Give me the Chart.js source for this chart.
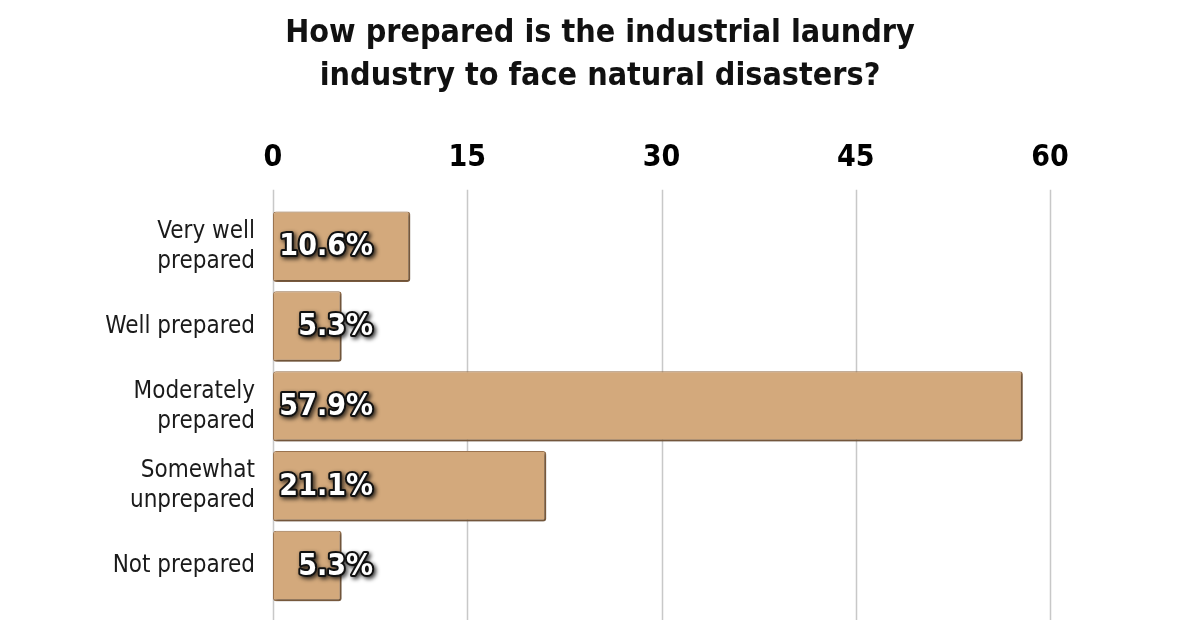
<!DOCTYPE html>
<html><head><meta charset="utf-8">
<script src="https://cdn.jsdelivr.net/npm/chart.js@4.4.1/dist/chart.umd.min.js"></script>
<style>html,body{margin:0;padding:0;background:#fff}#wrap{width:1200px;height:628px}</style>
</head><body><div id="wrap"><canvas id="c" width="1200" height="628"></canvas></div>
<script>
const categories = [["Very well", "prepared"], "Well prepared", ["Moderately", "prepared"], ["Somewhat", "unprepared"], "Not prepared"];
const values = [10.6, 5.3, 57.9, 21.1, 5.3];
const xTicks = [0, 15, 30, 45, 60];
const titleLines = ["How prepared is the industrial laundry", "industry to face natural disasters?"];

const FONT = "'Liberation Sans Narrow', 'DejaVu Sans Condensed', Arial, sans-serif";

const gridExt = {
  id: 'gridExt',
  beforeDatasetsDraw(chart) {
    const {ctx, chartArea, scales: {x}} = chart;
    ctx.save();
    ctx.strokeStyle = '#c8c8c8';
    ctx.lineWidth = 1.5;
    xTicks.forEach(v => {
      const px = Math.round(x.getPixelForValue(v)) + 0.5;
      ctx.beginPath();
      ctx.moveTo(px, chartArea.top - 17);
      ctx.lineTo(px, chartArea.bottom + 14);
      ctx.stroke();
    });
    ctx.restore();
  }
};

const barShadow = {
  id: 'barShadow',
  beforeDatasetDraw(chart) {
    const ctx = chart.ctx;
    ctx.save();
    ctx.shadowColor = 'rgba(0,0,0,0.35)';
    ctx.shadowOffsetX = 2;
    ctx.shadowOffsetY = 2;
    ctx.shadowBlur = 3;
  },
  afterDatasetDraw(chart) {
    chart.ctx.restore();
  }
};

const valueLabels = {
  id: 'valueLabels',
  afterDatasetsDraw(chart) {
    const {ctx, scales: {x}} = chart;
    const meta = chart.getDatasetMeta(0);
    const x0 = x.getPixelForValue(0);
    ctx.save();
    ctx.font = "bold 30px " + FONT;
    ctx.textAlign = 'right';
    ctx.textBaseline = 'middle';
    meta.data.forEach((bar, i) => {
      const txt = values[i].toFixed(1) + '%';
      const tx = x0 + 100, ty = bar.y + 1;
      ctx.save();
      ctx.shadowColor = 'rgba(0,0,0,0.8)';
      ctx.shadowOffsetX = 2;
      ctx.shadowOffsetY = 2;
      ctx.shadowBlur = 4;
      ctx.lineJoin = 'round';
      ctx.lineWidth = 4;
      ctx.strokeStyle = '#111';
      ctx.strokeText(txt, tx, ty);
      ctx.restore();
      ctx.fillStyle = '#ffffff';
      ctx.fillText(txt, tx, ty);
    });
    ctx.restore();
  }
};

new Chart(document.getElementById('c'), {
  type: 'bar',
  data: {
    labels: categories,
    datasets: [{
      data: values,
      backgroundColor: '#d3a97c',
      borderColor: '#9c7550',
      borderWidth: {top: 1, left: 1, right: 2, bottom: 2},
      borderRadius: 3,
      borderSkipped: false,
      barPercentage: 0.9,
      categoryPercentage: 0.98
    }]
  },
  options: {
    indexAxis: 'y',
    responsive: false,
    animation: false,
    devicePixelRatio: 1,
    layout: {padding: {top: 12, left: 0, right: 0, bottom: 22}},
    plugins: {
      legend: {display: false},
      tooltip: {enabled: false},
      title: {
        display: true,
        text: titleLines,
        color: '#111',
        font: {family: FONT, size: 32, weight: 'bold', lineHeight: 1.34},
        padding: {top: 0, bottom: 10}
      }
    },
    scales: {
      x: {
        position: 'top',
        min: 0,
        max: 60,
        afterBuildTicks(scale) { scale.ticks = xTicks.map(v => ({value: v})); },
        afterFit(scale) { scale.height = 99; scale.paddingLeft = 0; scale.paddingRight = 0; },
        grid: {display: false, drawTicks: false},
        border: {display: false},
        ticks: {
          color: '#000',
          padding: 31,
          font: {family: FONT, size: 30, weight: 'bold', lineHeight: 1.2}
        }
      },
      y: {
        afterFit(scale) { scale.width = 273; scale.paddingTop = 0; scale.paddingBottom = 0; },
        grid: {display: false, drawTicks: false},
        border: {display: false},
        ticks: {
          color: '#1a1a1a',
          padding: 18,
          font: {family: FONT, size: 24, lineHeight: 1.25}
        }
      },
      yRight: {
        type: 'category',
        position: 'right',
        display: true,
        afterFit(scale) { scale.width = 150; scale.paddingTop = 0; scale.paddingBottom = 0; },
        grid: {display: false, drawTicks: false},
        border: {display: false},
        ticks: {display: false}
      }
    }
  },
  plugins: [gridExt, barShadow, valueLabels]
});
</script>
</body></html>
